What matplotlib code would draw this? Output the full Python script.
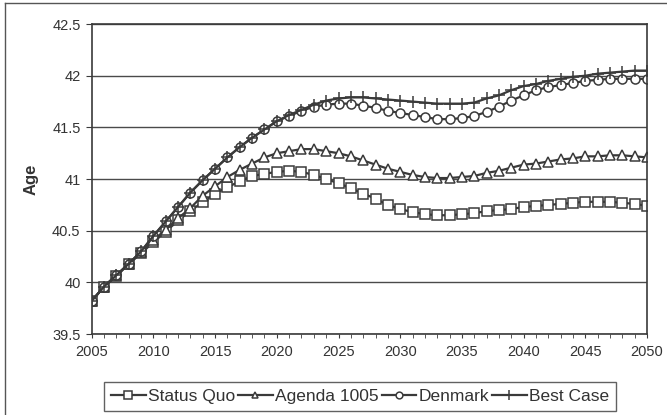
import matplotlib.pyplot as plt
from matplotlib.lines import Line2D
from matplotlib.ticker import MultipleLocator

plt.rcParams['font.family'] = ['Liberation Sans', 'DejaVu Sans']

# Average age projection, 2005-2050
years = list(range(2005, 2051))

status_quo = [39.82, 39.96, 40.06, 40.18, 40.28, 40.39, 40.49, 40.60, 40.69, 40.78,
              40.86, 40.92, 40.98, 41.03, 41.05, 41.07, 41.08, 41.07, 41.04, 41.00,
              40.96, 40.91, 40.86, 40.81, 40.75, 40.71, 40.68, 40.66, 40.65, 40.65,
              40.66, 40.67, 40.69, 40.70, 40.71, 40.73, 40.74, 40.75, 40.76, 40.77,
              40.78, 40.78, 40.78, 40.77, 40.76, 40.74]

agenda_1005 = [39.82, 39.96, 40.07, 40.18, 40.29, 40.41, 40.51, 40.62, 40.72, 40.84,
               40.93, 41.02, 41.09, 41.15, 41.21, 41.25, 41.27, 41.29, 41.29, 41.27,
               41.25, 41.22, 41.18, 41.14, 41.10, 41.07, 41.04, 41.02, 41.01, 41.01,
               41.02, 41.03, 41.06, 41.08, 41.11, 41.14, 41.15, 41.17, 41.19, 41.20,
               41.22, 41.22, 41.23, 41.23, 41.22, 41.21]

denmark = [39.82, 39.96, 40.07, 40.18, 40.30, 40.45, 40.59, 40.73, 40.87, 40.99,
           41.10, 41.21, 41.31, 41.40, 41.48, 41.56, 41.61, 41.66, 41.70, 41.72,
           41.73, 41.73, 41.71, 41.69, 41.66, 41.64, 41.62, 41.60, 41.58, 41.58,
           41.59, 41.61, 41.65, 41.70, 41.76, 41.81, 41.86, 41.89, 41.91, 41.93,
           41.95, 41.96, 41.97, 41.97, 41.97, 41.97]

best_case = [39.82, 39.96, 40.07, 40.18, 40.30, 40.45, 40.59, 40.73, 40.87, 40.99,
             41.10, 41.21, 41.31, 41.40, 41.48, 41.56, 41.62, 41.67, 41.72, 41.76,
             41.78, 41.79, 41.79, 41.78, 41.77, 41.76, 41.75, 41.74, 41.73, 41.73,
             41.73, 41.74, 41.78, 41.81, 41.86, 41.90, 41.92, 41.95, 41.97, 41.99,
             42.00, 42.02, 42.03, 42.04, 42.05, 42.05]

series = [
    ('Status Quo', status_quo, 's', 7),
    ('Agenda 1005', agenda_1005, '^', 6.5),
    ('Denmark', denmark, 'o', 6.5),
    ('Best Case', best_case, '+', 9),
]

ink = '#3a3a3a'

fig = plt.figure(figsize=(6.67, 4.15), dpi=100)
ax = fig.add_axes([0.1375, 0.195, 0.8325, 0.747])

for label, vals, marker, ms in series:
    ax.plot(years, vals, color=ink, lw=1.6, marker=marker, markersize=ms,
            markerfacecolor='white', markeredgecolor=ink, markeredgewidth=1.1,
            label=label)

ax.set_xlim(2005, 2050)
ax.set_ylim(39.5, 42.5)
ax.xaxis.set_major_locator(MultipleLocator(5))
ax.xaxis.set_minor_locator(MultipleLocator(1))
ax.yaxis.set_major_locator(MultipleLocator(0.5))
ax.yaxis.set_major_formatter(plt.FuncFormatter(lambda v, p: f'{v:g}'))
ax.grid(axis='y', color='#4a4a4a', lw=1.0)
ax.set_axisbelow(True)

for s in ax.spines.values():
    s.set_color(ink)
    s.set_linewidth(1.2)

ax.tick_params(axis='both', which='both', direction='out', color=ink,
               labelcolor='#333333', labelsize=10.5)
ax.tick_params(axis='x', which='both', length=3, pad=5)
ax.tick_params(axis='y', length=4, pad=4)

ax.set_ylabel('Age', fontsize=12, fontweight='bold', color='#333333', labelpad=10)

leg = fig.legend(loc='center', bbox_to_anchor=(0.54, 0.044), ncol=4, frameon=True,
                 fancybox=False, edgecolor=ink, fontsize=12.5, handlelength=2.0,
                 handletextpad=0.15, columnspacing=0.15, borderpad=0.4,
                 markerscale=0.75, labelcolor='#333333')
leg.get_frame().set_linewidth(1.0)

# scanned page frame on top and left edges
fig.add_artist(Line2D([0.0075, 0.0075], [0.0, 0.993], transform=fig.transFigure,
                      color='#555555', lw=1.0))
fig.add_artist(Line2D([0.0075, 1.0], [0.993, 0.993], transform=fig.transFigure,
                      color='#555555', lw=1.0))

fig.savefig('out.png', dpi=100)
